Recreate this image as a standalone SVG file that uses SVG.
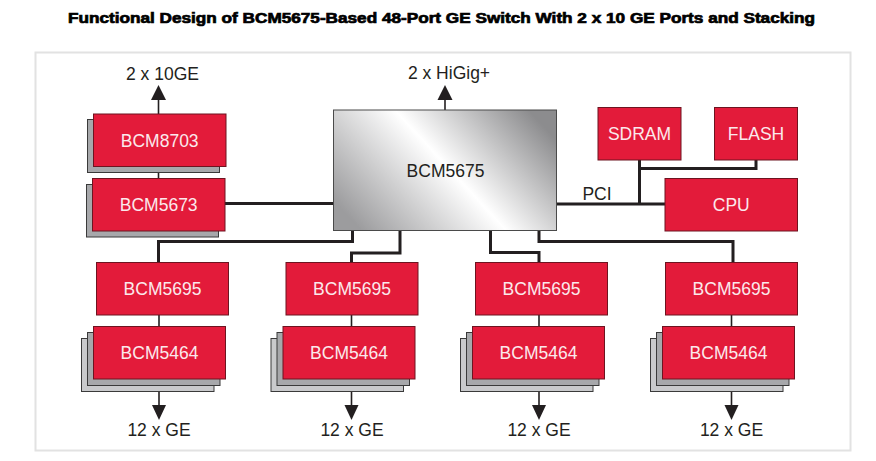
<svg xmlns="http://www.w3.org/2000/svg" width="876" height="461" viewBox="0 0 876 461">
<defs>
<style>
.red{fill:#e31b3a;stroke:#6d1420;stroke-width:1}
.sh1{fill:#a7a8ab;stroke:#3a3a3a;stroke-width:1}
.sh2{fill:#c9cacc;stroke:#3a3a3a;stroke-width:1}
.lbl{font-family:"Liberation Sans",Arial,sans-serif;font-size:17.5px;fill:#fbe9ec;text-anchor:middle}
.dk{font-family:"Liberation Sans",Arial,sans-serif;font-size:17.5px;fill:#231f20;text-anchor:middle}
.thick{fill:none;stroke:#231f20;stroke-width:3}
.thin{fill:none;stroke:#231f20;stroke-width:1.6}
.ah{fill:#231f20}
</style>
<linearGradient id="gr" x1="0" y1="0.75" x2="1" y2="0.25">
<stop offset="0" stop-color="#9c9c9e"/>
<stop offset="0.52" stop-color="#ffffff"/>
<stop offset="1" stop-color="#8c8c8e"/>
</linearGradient>
</defs>
<rect width="876" height="461" fill="#ffffff"/>
<text x="441.5" y="22.5" font-family="'Liberation Sans',Arial,sans-serif" font-weight="bold" font-size="14.5" text-anchor="middle" textLength="747" lengthAdjust="spacingAndGlyphs" fill="#000" stroke="#000" stroke-width="0.7">Functional Design of BCM5675-Based 48-Port GE Switch With 2 x 10 GE Ports and Stacking</text>
<rect x="35.5" y="52.5" width="815" height="398" fill="none" stroke="#e2e2e2" stroke-width="2"/>

<g id="connectors">
<line class="thin" x1="158.5" y1="114" x2="158.5" y2="98"/>
<polygon class="ah" points="151,100 166,100 158.5,85"/>
<line class="thin" x1="158.5" y1="166" x2="158.5" y2="179"/>
<line class="thick" x1="225" y1="203.5" x2="333" y2="203.5"/>
<line class="thin" x1="445" y1="110" x2="445" y2="98"/>
<polygon class="ah" points="437.5,100 452.5,100 445,85"/>
<line class="thick" x1="557" y1="204" x2="665" y2="204"/>
<polyline class="thick" points="639.5,160 639.5,204"/>
<polyline class="thick" points="639.5,168.5 756,168.5 756,160"/>
<polyline class="thick" points="352.5,231 352.5,241.5 158.5,241.5 158.5,263"/>
<polyline class="thick" points="400,231 400,253 351.5,253 351.5,263"/>
<polyline class="thick" points="490.5,231 490.5,252.5 539,252.5 539,263"/>
<polyline class="thick" points="539,231 539,241.5 733,241.5 733,263"/>
<line class="thin" x1="159" y1="315" x2="159" y2="327"/>
<line class="thin" x1="351.5" y1="315" x2="351.5" y2="327"/>
<line class="thin" x1="539" y1="315" x2="539" y2="327"/>
<line class="thin" x1="731.5" y1="315" x2="731.5" y2="327"/>
<line class="thin" x1="159" y1="390" x2="159" y2="406"/>
<polygon class="ah" points="152,405 166,405 159,420"/>
<line class="thin" x1="351.5" y1="390" x2="351.5" y2="406"/>
<polygon class="ah" points="344.5,405 358.5,405 351.5,420"/>
<line class="thin" x1="539" y1="390" x2="539" y2="406"/>
<polygon class="ah" points="532,405 546,405 539,420"/>
<line class="thin" x1="731.5" y1="390" x2="731.5" y2="406"/>
<polygon class="ah" points="724.5,405 738.5,405 731.5,420"/>
</g>

<text class="dk" x="162.5" y="80">2 x 10GE</text>
<text class="dk" x="449" y="79">2 x HiGig+</text>
<text class="dk" x="597" y="200">PCI</text>
<text class="dk" x="159" y="436">12 x GE</text>
<text class="dk" x="352" y="436">12 x GE</text>
<text class="dk" x="539" y="436">12 x GE</text>
<text class="dk" x="731.5" y="436">12 x GE</text>

<g id="bcm8703">
<rect class="sh1" x="87.5" y="119.5" width="132" height="53"/>
<rect class="red" x="93.5" y="114" width="132.5" height="52.5"/>
<text class="lbl" x="159.7" y="146.5">BCM8703</text>
</g>
<g id="bcm5673">
<rect class="sh1" x="86.5" y="184.5" width="132" height="52.5"/>
<rect class="red" x="92.5" y="178.5" width="132.5" height="52.5"/>
<text class="lbl" x="158.7" y="211">BCM5673</text>
</g>
<g id="bcm5675">
<rect x="333.5" y="110" width="223" height="120.5" fill="url(#gr)" stroke="#4a4a4a" stroke-width="1"/>
<text class="dk" x="445.5" y="177">BCM5675</text>
</g>
<g id="sdram">
<rect class="red" x="598" y="107.5" width="83" height="52.5"/>
<text class="lbl" x="639.5" y="140">SDRAM</text>
</g>
<g id="flash">
<rect class="red" x="714.5" y="107.5" width="83" height="52.5"/>
<text class="lbl" x="756" y="140">FLASH</text>
</g>
<g id="cpu">
<rect class="red" x="665" y="178.5" width="132.5" height="52.5"/>
<text class="lbl" x="731.3" y="211">CPU</text>
</g>

<g id="bcm5695-1">
<rect class="red" x="96.5" y="262.5" width="132" height="52.5"/>
<text class="lbl" x="162.5" y="295">BCM5695</text>
</g>
<g id="bcm5695-2">
<rect class="red" x="286" y="262.5" width="132" height="52.5"/>
<text class="lbl" x="352" y="295">BCM5695</text>
</g>
<g id="bcm5695-3">
<rect class="red" x="475.5" y="262.5" width="132" height="52.5"/>
<text class="lbl" x="541.5" y="295">BCM5695</text>
</g>
<g id="bcm5695-4">
<rect class="red" x="665.5" y="262.5" width="132" height="52.5"/>
<text class="lbl" x="731.5" y="295">BCM5695</text>
</g>

<g id="bcm5464-1">
<rect class="sh2" x="81.5" y="338.5" width="132.5" height="53"/>
<rect class="sh1" x="87.5" y="332.5" width="132.5" height="53"/>
<rect class="red" x="93.5" y="326.5" width="132" height="52.5"/>
<text class="lbl" x="159.5" y="359">BCM5464</text>
</g>
<g id="bcm5464-2">
<rect class="sh2" x="271" y="338.5" width="132.5" height="53"/>
<rect class="sh1" x="277" y="332.5" width="132.5" height="53"/>
<rect class="red" x="283" y="326.5" width="132" height="52.5"/>
<text class="lbl" x="349" y="359">BCM5464</text>
</g>
<g id="bcm5464-3">
<rect class="sh2" x="460.5" y="338.5" width="132.5" height="53"/>
<rect class="sh1" x="466.5" y="332.5" width="132.5" height="53"/>
<rect class="red" x="472.5" y="326.5" width="132" height="52.5"/>
<text class="lbl" x="538.5" y="359">BCM5464</text>
</g>
<g id="bcm5464-4">
<rect class="sh2" x="650.5" y="338.5" width="132.5" height="53"/>
<rect class="sh1" x="656.5" y="332.5" width="132.5" height="53"/>
<rect class="red" x="662.5" y="326.5" width="132" height="52.5"/>
<text class="lbl" x="728.5" y="359">BCM5464</text>
</g>
</svg>
